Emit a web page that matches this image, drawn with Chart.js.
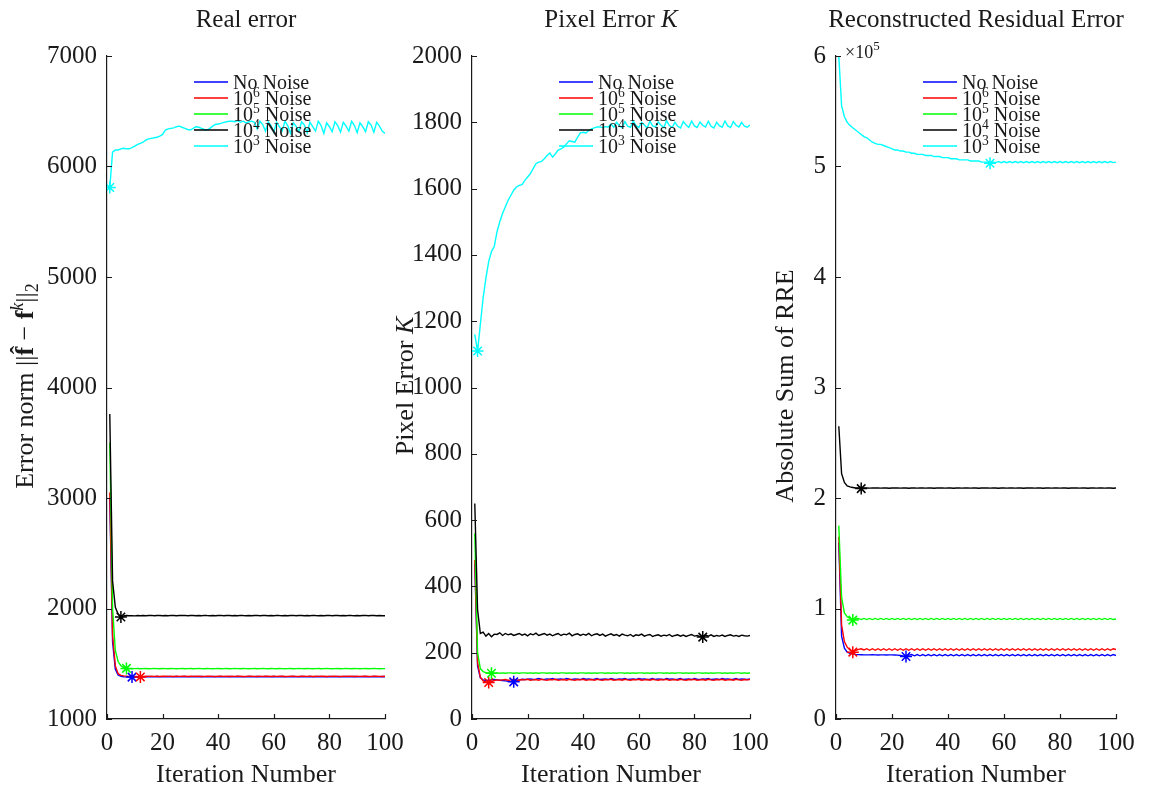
<!DOCTYPE html>
<html>
<head>
<meta charset="utf-8">
<script src="https://cdn.jsdelivr.net/npm/chart.js@4.4.1/dist/chart.umd.min.js"></script>
<style>
  body { margin: 0; background: #fff; }
  #wrap { position: relative; width: 1159px; height: 790px; }
  canvas { position: absolute; left: 0; top: 0; }
</style>
</head>
<body>
<div id="wrap">
  <canvas id="c1" width="1159" height="790"></canvas>
  <canvas id="c2" width="1159" height="790"></canvas>
  <canvas id="c3" width="1159" height="790"></canvas>
</div>
<script>
// iteration numbers (x categories)
const iterations = [
  1, 2, 3, 4, 5, 6, 7, 8, 9, 10, 11, 12, 13, 14, 15, 16, 17, 18, 19, 20,
  21, 22, 23, 24, 25, 26, 27, 28, 29, 30, 31, 32, 33, 34, 35, 36, 37, 38, 39, 40,
  41, 42, 43, 44, 45, 46, 47, 48, 49, 50, 51, 52, 53, 54, 55, 56, 57, 58, 59, 60,
  61, 62, 63, 64, 65, 66, 67, 68, 69, 70, 71, 72, 73, 74, 75, 76, 77, 78, 79, 80,
  81, 82, 83, 84, 85, 86, 87, 88, 89, 90, 91, 92, 93, 94, 95, 96, 97, 98, 99, 100
];
const seriesNames = ['No Noise', '10^6 Noise', '10^5 Noise', '10^4 Noise', '10^3 Noise'];
const seriesColors = ['#0000ff', '#ff0000', '#00ff00', '#000000', '#00ffff'];
const xTicks = [0, 20, 40, 60, 80, 100];

// ---- Real error ----
const realBlue = [
  3000, 1700, 1450, 1398, 1386, 1383, 1381, 1380, 1379, 1381,
  1382, 1381, 1383, 1382, 1384, 1383, 1382, 1384, 1383, 1382,
  1383, 1384, 1382, 1383, 1384, 1382, 1383, 1384, 1383, 1382,
  1384, 1383, 1382, 1384, 1383, 1382, 1383, 1384, 1382, 1383,
  1384, 1382, 1383, 1384, 1383, 1382, 1384, 1383, 1382, 1383,
  1384, 1382, 1383, 1384, 1382, 1383, 1384, 1383, 1382, 1384,
  1383, 1382, 1384, 1383, 1382, 1383, 1384, 1382, 1383, 1384,
  1382, 1383, 1384, 1383, 1382, 1384, 1383, 1382, 1383, 1384,
  1382, 1383, 1384, 1382, 1383, 1384, 1383, 1382, 1384, 1383,
  1382, 1383, 1384, 1382, 1383, 1384, 1383, 1382, 1384, 1383
];
const realRed = [
  3050, 1760, 1480, 1410, 1395, 1390, 1388, 1386, 1385, 1384,
  1383, 1381, 1385, 1387, 1386, 1388, 1386, 1387, 1385, 1387,
  1388, 1386, 1387, 1385, 1388, 1386, 1387, 1388, 1385, 1387,
  1386, 1388, 1387, 1385, 1386, 1388, 1387, 1386, 1385, 1388,
  1387, 1386, 1388, 1385, 1387, 1386, 1388, 1387, 1385, 1386,
  1388, 1387, 1386, 1385, 1388, 1386, 1387, 1388, 1385, 1387,
  1386, 1388, 1387, 1385, 1386, 1388, 1387, 1386, 1385, 1388,
  1387, 1386, 1388, 1385, 1387, 1386, 1388, 1387, 1385, 1386,
  1388, 1387, 1386, 1385, 1388, 1386, 1387, 1388, 1385, 1387,
  1386, 1388, 1387, 1385, 1386, 1388, 1387, 1386, 1385, 1387
];
const realGreen = [
  3500, 2000, 1620, 1520, 1482, 1466, 1458, 1456, 1455, 1456,
  1457, 1455, 1456, 1457, 1455, 1456, 1457, 1456, 1455, 1457,
  1456, 1455, 1457, 1456, 1455, 1456, 1457, 1455, 1456, 1457,
  1455, 1456, 1457, 1456, 1455, 1457, 1456, 1455, 1456, 1457,
  1455, 1456, 1457, 1455, 1456, 1457, 1456, 1455, 1457, 1456,
  1455, 1456, 1457, 1455, 1456, 1457, 1456, 1455, 1457, 1456,
  1455, 1457, 1456, 1455, 1456, 1457, 1455, 1456, 1457, 1456,
  1455, 1457, 1456, 1455, 1456, 1457, 1455, 1456, 1457, 1456,
  1455, 1456, 1457, 1455, 1456, 1457, 1456, 1455, 1457, 1456,
  1455, 1456, 1457, 1455, 1456, 1457, 1456, 1455, 1456, 1456
];
const realBlack = [
  3760, 2250, 2010, 1950, 1923, 1932, 1936, 1934, 1935, 1933,
  1936, 1935, 1937, 1934, 1936, 1938, 1935, 1937, 1936, 1934,
  1937, 1935, 1938, 1936, 1934, 1937, 1936, 1938, 1935, 1937,
  1936, 1934, 1937, 1935, 1938, 1936, 1935, 1937, 1934, 1936,
  1938, 1935, 1937, 1936, 1934, 1937, 1935, 1938, 1936, 1935,
  1937, 1934, 1936, 1938, 1935, 1937, 1936, 1934, 1937, 1935,
  1938, 1936, 1935, 1937, 1934, 1936, 1938, 1935, 1937, 1936,
  1934, 1937, 1935, 1938, 1936, 1935, 1937, 1934, 1936, 1938,
  1935, 1937, 1936, 1934, 1937, 1935, 1938, 1936, 1935, 1937,
  1934, 1936, 1938, 1935, 1937, 1936, 1934, 1937, 1935, 1934
];
const realCyan = [
  5810, 6130, 6150, 6150, 6160, 6165, 6160, 6160, 6170, 6185,
  6200, 6210, 6220, 6240, 6250, 6255, 6260, 6265, 6275, 6290,
  6330, 6340, 6345, 6350, 6360, 6365, 6355, 6345, 6335, 6330,
  6345, 6360, 6355, 6345, 6335, 6330, 6345, 6365, 6380, 6385,
  6390, 6400, 6405, 6410, 6410, 6405, 6415, 6400, 6410, 6395,
  6405, 6410, 6400, 6340, 6410, 6380, 6320, 6405, 6370, 6310,
  6400, 6360, 6320, 6410, 6370, 6300, 6395, 6365, 6315, 6405,
  6375, 6305, 6400, 6360, 6320, 6410, 6370, 6300, 6395, 6360,
  6315, 6405, 6370, 6310, 6400, 6365, 6320, 6410, 6370, 6305,
  6395, 6360, 6315, 6405, 6375, 6310, 6400, 6365, 6320, 6300
];
const realMarkIter = [9, 12, 7, 5, 1];
const realMarkVal = [1379, 1381, 1458, 1923, 5810];
const realYTicks = [1000, 2000, 3000, 4000, 5000, 6000, 7000];

// ---- Pixel error K ----
const pixBlue = [
  470, 160, 124, 118, 116, 117, 118, 119, 118, 117,
  116, 115, 114, 113, 112, 116, 118, 120, 119, 120,
  121, 119, 120, 122, 120, 119, 121, 120, 122, 119,
  120, 121, 119, 122, 120, 119, 121, 120, 119, 122,
  120, 121, 119, 120, 122, 119, 120, 121, 119, 122,
  120, 119, 121, 120, 122, 119, 120, 121, 119, 122,
  120, 121, 119, 120, 122, 119, 121, 120, 119, 122,
  120, 121, 119, 120, 122, 119, 120, 121, 119, 122,
  120, 119, 121, 120, 122, 119, 120, 121, 119, 122,
  120, 121, 119, 120, 122, 119, 121, 120, 119, 121
];
const pixRed = [
  480, 170, 126, 115, 112, 110, 113, 116, 118, 117,
  118, 119, 117, 118, 120, 118, 117, 119, 118, 120,
  117, 118, 119, 117, 120, 118, 117, 119, 118, 120,
  117, 118, 119, 117, 120, 118, 117, 119, 118, 120,
  117, 118, 119, 117, 120, 118, 117, 119, 118, 120,
  117, 118, 119, 117, 120, 118, 117, 119, 118, 120,
  117, 118, 119, 117, 120, 118, 117, 119, 118, 120,
  117, 118, 119, 117, 120, 118, 117, 119, 118, 120,
  117, 118, 119, 117, 120, 118, 117, 119, 118, 120,
  117, 118, 119, 117, 120, 118, 117, 119, 118, 119
];
const pixGreen = [
  560, 200, 152, 143, 140, 139, 138, 138, 139, 138,
  139, 138, 139, 139, 138, 139, 138, 139, 139, 138,
  139, 138, 139, 138, 139, 139, 138, 139, 138, 139,
  138, 139, 139, 138, 139, 138, 139, 138, 139, 139,
  138, 139, 138, 139, 138, 139, 139, 138, 139, 138,
  139, 138, 139, 139, 138, 139, 138, 139, 138, 139,
  139, 138, 139, 138, 139, 138, 139, 139, 138, 139,
  138, 139, 138, 139, 139, 138, 139, 138, 139, 138,
  139, 139, 138, 139, 138, 139, 138, 139, 139, 138,
  139, 138, 139, 138, 139, 139, 138, 139, 138, 139
];
const pixBlack = [
  650, 330, 258, 262, 250, 258, 248, 256, 255, 260,
  252, 258, 254, 257, 252, 255, 258, 253, 256, 251,
  257, 254, 259, 252, 255, 258, 253, 256, 251, 255,
  258, 252, 256, 254, 259, 251, 255, 257, 252, 256,
  253, 258, 251, 255, 257, 252, 256, 250, 254, 257,
  252, 255, 250, 256, 253, 251, 255, 249, 254, 252,
  256, 250, 253, 255, 249, 252, 254, 250, 253, 251,
  255, 249, 252, 254, 250, 253, 249, 252, 255, 250,
  252, 249, 247, 253, 250, 254, 249, 252, 250, 253,
  249, 252, 254, 250, 252, 249, 253, 251, 250, 252
];
const pixCyan = [
  1160, 1110, 1190, 1270, 1330, 1380, 1410, 1425, 1470, 1500,
  1525, 1545, 1565, 1580, 1595, 1605, 1610, 1612, 1625, 1635,
  1645, 1660, 1675, 1680, 1682, 1690, 1700, 1707, 1695, 1705,
  1716, 1720, 1725, 1735, 1744, 1742, 1740, 1755, 1768, 1770,
  1768, 1775, 1780, 1783, 1786, 1786, 1784, 1787, 1786, 1795,
  1785, 1800, 1790, 1783, 1802, 1788, 1785, 1804, 1790, 1784,
  1800, 1792, 1783, 1803, 1789, 1786, 1801, 1791, 1784, 1805,
  1790, 1785, 1800, 1788, 1783, 1802, 1792, 1785, 1804, 1789,
  1784, 1801, 1791, 1786, 1803, 1788, 1783, 1800, 1790, 1785,
  1804, 1789, 1784, 1802, 1791, 1786, 1800, 1788, 1785, 1792
];
const pixMarkIter = [15, 6, 7, 83, 2];
const pixMarkVal = [112, 110, 138, 247, 1110];
const pixYTicks = [0, 200, 400, 600, 800, 1000, 1200, 1400, 1600, 1800, 2000];

// ---- Reconstructed residual error (x 10^5) ----
const rreBlue = [
  1.60, 0.75, 0.64, 0.605, 0.595, 0.59, 0.585, 0.583, 0.582, 0.58,
  0.58, 0.58, 0.581, 0.58, 0.579, 0.58, 0.58, 0.579, 0.58, 0.58,
  0.579, 0.578, 0.575, 0.57, 0.566, 0.578, 0.583, 0.572, 0.583, 0.572,
  0.583, 0.572, 0.583, 0.572, 0.583, 0.572, 0.583, 0.572, 0.583, 0.572,
  0.583, 0.572, 0.583, 0.572, 0.583, 0.572, 0.583, 0.572, 0.583, 0.572,
  0.583, 0.572, 0.583, 0.572, 0.583, 0.572, 0.583, 0.572, 0.583, 0.572,
  0.583, 0.572, 0.583, 0.572, 0.583, 0.572, 0.583, 0.572, 0.583, 0.572,
  0.583, 0.572, 0.583, 0.572, 0.583, 0.572, 0.583, 0.572, 0.583, 0.572,
  0.583, 0.572, 0.583, 0.572, 0.583, 0.572, 0.583, 0.572, 0.583, 0.572,
  0.583, 0.572, 0.583, 0.572, 0.583, 0.572, 0.583, 0.572, 0.583, 0.575
];
const rreRed = [
  1.65, 0.85, 0.70, 0.65, 0.625, 0.605, 0.62, 0.63, 0.635, 0.625,
  0.636, 0.622, 0.636, 0.622, 0.636, 0.622, 0.636, 0.622, 0.636, 0.622,
  0.636, 0.622, 0.636, 0.622, 0.636, 0.622, 0.636, 0.622, 0.636, 0.622,
  0.636, 0.622, 0.636, 0.622, 0.636, 0.622, 0.636, 0.622, 0.636, 0.622,
  0.636, 0.622, 0.636, 0.622, 0.636, 0.622, 0.636, 0.622, 0.636, 0.622,
  0.636, 0.622, 0.636, 0.622, 0.636, 0.622, 0.636, 0.622, 0.636, 0.622,
  0.636, 0.622, 0.636, 0.622, 0.636, 0.622, 0.636, 0.622, 0.636, 0.622,
  0.636, 0.622, 0.636, 0.622, 0.636, 0.622, 0.636, 0.622, 0.636, 0.622,
  0.636, 0.622, 0.636, 0.622, 0.636, 0.622, 0.636, 0.622, 0.636, 0.622,
  0.636, 0.622, 0.636, 0.622, 0.636, 0.622, 0.636, 0.622, 0.636, 0.628
];
const rreGreen = [
  1.75, 1.10, 0.96, 0.925, 0.91, 0.895, 0.905, 0.91, 0.90, 0.91,
  0.90, 0.91, 0.90, 0.91, 0.90, 0.91, 0.90, 0.91, 0.90, 0.91,
  0.90, 0.91, 0.90, 0.91, 0.90, 0.91, 0.90, 0.91, 0.90, 0.91,
  0.90, 0.91, 0.90, 0.91, 0.90, 0.91, 0.90, 0.91, 0.90, 0.91,
  0.90, 0.91, 0.90, 0.91, 0.90, 0.91, 0.90, 0.91, 0.90, 0.91,
  0.90, 0.91, 0.90, 0.91, 0.90, 0.91, 0.90, 0.91, 0.90, 0.91,
  0.90, 0.91, 0.90, 0.91, 0.90, 0.91, 0.90, 0.91, 0.90, 0.91,
  0.90, 0.91, 0.90, 0.91, 0.90, 0.91, 0.90, 0.91, 0.90, 0.91,
  0.90, 0.91, 0.90, 0.91, 0.90, 0.91, 0.90, 0.91, 0.90, 0.91,
  0.90, 0.91, 0.90, 0.91, 0.90, 0.91, 0.90, 0.91, 0.90, 0.905
];
const rreBlack = [
  2.65, 2.22, 2.14, 2.11, 2.10, 2.095, 2.09, 2.09, 2.085, 2.09,
  2.092, 2.089, 2.091, 2.09, 2.092, 2.089, 2.091, 2.09, 2.088, 2.091,
  2.09, 2.092, 2.089, 2.091, 2.09, 2.088, 2.091, 2.092, 2.089, 2.09,
  2.091, 2.089, 2.092, 2.09, 2.088, 2.091, 2.09, 2.092, 2.089, 2.091,
  2.09, 2.088, 2.091, 2.092, 2.089, 2.09, 2.091, 2.089, 2.092, 2.09,
  2.088, 2.091, 2.09, 2.092, 2.089, 2.091, 2.09, 2.088, 2.091, 2.092,
  2.089, 2.09, 2.091, 2.089, 2.092, 2.09, 2.088, 2.091, 2.09, 2.092,
  2.089, 2.091, 2.09, 2.088, 2.091, 2.092, 2.089, 2.09, 2.091, 2.089,
  2.092, 2.09, 2.088, 2.091, 2.09, 2.092, 2.089, 2.091, 2.09, 2.088,
  2.091, 2.092, 2.089, 2.09, 2.091, 2.089, 2.092, 2.09, 2.088, 2.09
];
const rreCyan = [
  6.00, 5.55, 5.45, 5.40, 5.37, 5.35, 5.33, 5.31, 5.29, 5.27,
  5.26, 5.24, 5.22, 5.21, 5.20, 5.20, 5.19, 5.18, 5.17, 5.16,
  5.15, 5.15, 5.14, 5.14, 5.13, 5.13, 5.12, 5.12, 5.11, 5.11,
  5.11, 5.10, 5.10, 5.10, 5.09, 5.09, 5.09, 5.08, 5.08, 5.08,
  5.07, 5.07, 5.07, 5.06, 5.06, 5.06, 5.06, 5.05, 5.05, 5.05,
  5.05, 5.04, 5.04, 5.04, 5.03, 5.04, 5.035, 5.045, 5.035, 5.045,
  5.035, 5.045, 5.035, 5.045, 5.035, 5.045, 5.035, 5.045, 5.035, 5.045,
  5.035, 5.045, 5.035, 5.045, 5.035, 5.045, 5.035, 5.045, 5.035, 5.045,
  5.035, 5.045, 5.035, 5.045, 5.035, 5.045, 5.035, 5.045, 5.035, 5.045,
  5.035, 5.045, 5.035, 5.045, 5.035, 5.045, 5.035, 5.045, 5.035, 5.04
];
const rreMarkIter = [25, 6, 6, 9, 55];
const rreMarkVal = [0.566, 0.605, 0.895, 2.085, 5.03];
const rreYTicks = [0, 1, 2, 3, 4, 5, 6];

const SERIF = "'Liberation Serif', 'DejaVu Serif', serif";
const INK = '#1a1a1a';
const Y_BOX = 100;   // reserved width for y tick labels
const X_BOX = 45;    // reserved height for x tick labels

// draw a list of text runs {t, size, style, dy} one after another
function drawRuns(ctx, runs, x, y, align) {
  let total = 0;
  const widths = runs.map(r => {
    ctx.font = (r.style || '') + ' ' + (r.size || 25) + 'px ' + SERIF;
    const w = ctx.measureText(r.t).width;
    total += w;
    return w;
  });
  let cx = align === 'center' ? x - total / 2 : x;
  ctx.textAlign = 'left';
  ctx.textBaseline = 'alphabetic';
  runs.forEach((r, i) => {
    ctx.font = (r.style || '') + ' ' + (r.size || 25) + 'px ' + SERIF;
    ctx.fillText(r.t, cx, y + (r.dy || 0));
    cx += widths[i];
  });
}

function labelRuns(name, size) {
  const m = name.match(/^(\d+)\^(\d)(.*)$/);
  if (!m) return [{t: name, size: size}];
  return [{t: m[1], size: size}, {t: m[2], size: size * 0.68, dy: -8}, {t: ' ' + m[3].trim(), size: size}];
}

const decoPlugin = {
  id: 'deco',
  afterDraw(chart, args, o) {
    const ctx = chart.ctx;
    const a = chart.chartArea;
    const xs = chart.scales.x, ys = chart.scales.y;
    ctx.save();
    // inward tick marks
    ctx.strokeStyle = INK;
    ctx.lineWidth = 1.2;
    ctx.beginPath();
    xs.ticks.forEach(t => {
      const px = Math.round(xs.getPixelForValue(t.value)) + 0.5;
      ctx.moveTo(px, a.bottom);
      ctx.lineTo(px, a.bottom - 5);
    });
    ys.ticks.forEach(t => {
      const py = Math.round(ys.getPixelForValue(t.value)) + 0.5;
      ctx.moveTo(a.left, py);
      ctx.lineTo(a.left + 5, py);
    });
    ctx.stroke();

    ctx.fillStyle = INK;
    const cx = (a.left + a.right) / 2;
    drawRuns(ctx, o.title, cx, 27, 'center');
    drawRuns(ctx, [{t: 'Iteration Number', size: 26}], cx, 782, 'center');

    ctx.save();
    ctx.translate(o.yLabelX, 386);
    ctx.rotate(-Math.PI / 2);
    drawRuns(ctx, o.yLabel, 0, 0, 'center');
    ctx.restore();

    if (o.extra) drawRuns(ctx, o.extra, a.left + 9, 58, 'left');

    // legend, no box, drawn over the plot
    const lines = chart.data.datasets.filter(d => !d.isMarker);
    lines.forEach((d, k) => {
      const rowY = a.top + 26 + k * 16;
      ctx.strokeStyle = d.borderColor;
      ctx.lineWidth = 1.4;
      ctx.beginPath();
      ctx.moveTo(a.left + 87, rowY);
      ctx.lineTo(a.left + 121, rowY);
      ctx.stroke();
      ctx.fillStyle = INK;
      drawRuns(ctx, labelRuns(d.label, 20), a.left + 126, rowY + 7, 'left');
    });
    ctx.restore();
  }
};

function makeChart(id, area, seriesList, markIter, markVal, yTicks, deco) {
  const datasets = seriesList.map((vals, k) => ({
    label: seriesNames[k],
    data: iterations.map((it, j) => ({x: it, y: vals[j]})),
    borderColor: seriesColors[k],
    borderWidth: 1.4,
    pointRadius: 0,
    tension: 0,
    fill: false,
    order: 10 - k
  }));
  seriesList.forEach((vals, k) => {
    datasets.push({
      label: '',
      isMarker: true,
      data: [{x: markIter[k], y: markVal[k]}],
      showLine: false,
      pointStyle: 'star',
      pointRadius: 6,
      pointBorderWidth: 1.5,
      borderColor: seriesColors[k],
      backgroundColor: seriesColors[k],
      order: -k
    });
  });
  const yMin = yTicks[0], yMax = yTicks[yTicks.length - 1];
  return new Chart(document.getElementById(id), {
    type: 'line',
    data: {datasets},
    plugins: [decoPlugin],
    options: {
      responsive: false,
      animation: false,
      devicePixelRatio: 1,
      layout: {padding: {
        left: area.left - Y_BOX, right: 1159 - area.right,
        top: area.top, bottom: 790 - area.bottom - X_BOX
      }},
      plugins: {legend: {display: false}, tooltip: {enabled: false}, title: {display: false}, deco},
      scales: {
        x: {
          type: 'linear', min: 0, max: 100,
          afterBuildTicks: s => { s.ticks = xTicks.map(v => ({value: v})); },
          afterFit: s => { s.height = X_BOX; },
          grid: {display: false, drawTicks: false},
          border: {display: true, color: INK, width: 1.2},
          ticks: {font: {family: SERIF, size: 25}, color: INK, padding: 9, maxRotation: 0, autoSkip: false,
                  callback: v => String(v)}
        },
        y: {
          type: 'linear', min: yMin, max: yMax,
          afterBuildTicks: s => { s.ticks = yTicks.map(v => ({value: v})); },
          afterFit: s => { s.width = Y_BOX; },
          grid: {display: false, drawTicks: false},
          border: {display: true, color: INK, width: 1.2},
          ticks: {font: {family: SERIF, size: 25}, color: INK, padding: 10, autoSkip: false,
                  callback: v => String(v)}
        }
      }
    }
  });
}

makeChart('c1', {left: 107, right: 385, top: 56, bottom: 719},
  [realBlue, realRed, realGreen, realBlack, realCyan], realMarkIter, realMarkVal, realYTicks,
  {
    title: [{t: 'Real error', size: 25}],
    yLabelX: 33,
    yLabel: [
      {t: 'Error norm ', size: 26}, {t: '||', size: 26}, {t: 'f\u0302', size: 26, style: 'bold'},
      {t: ' \u2212 ', size: 26}, {t: 'f', size: 26, style: 'bold'}, {t: 'k', size: 18, style: 'italic', dy: -10},
      {t: '||', size: 26}, {t: '2', size: 18, dy: 5}
    ]
  });

makeChart('c2', {left: 472, right: 750, top: 56, bottom: 719},
  [pixBlue, pixRed, pixGreen, pixBlack, pixCyan], pixMarkIter, pixMarkVal, pixYTicks,
  {
    title: [{t: 'Pixel Error ', size: 25}, {t: 'K', size: 25, style: 'italic'}],
    yLabelX: 413,
    yLabel: [{t: 'Pixel Error ', size: 26}, {t: 'K', size: 26, style: 'italic'}]
  });

makeChart('c3', {left: 836, right: 1116, top: 56, bottom: 719},
  [rreBlue, rreRed, rreGreen, rreBlack, rreCyan], rreMarkIter, rreMarkVal, rreYTicks,
  {
    title: [{t: 'Reconstructed Residual Error', size: 25}],
    yLabelX: 793,
    yLabel: [{t: 'Absolute Sum of RRE', size: 26}],
    extra: [{t: '\u00d710', size: 18}, {t: '5', size: 13, dy: -8}]
  });
</script>
</body>
</html>
